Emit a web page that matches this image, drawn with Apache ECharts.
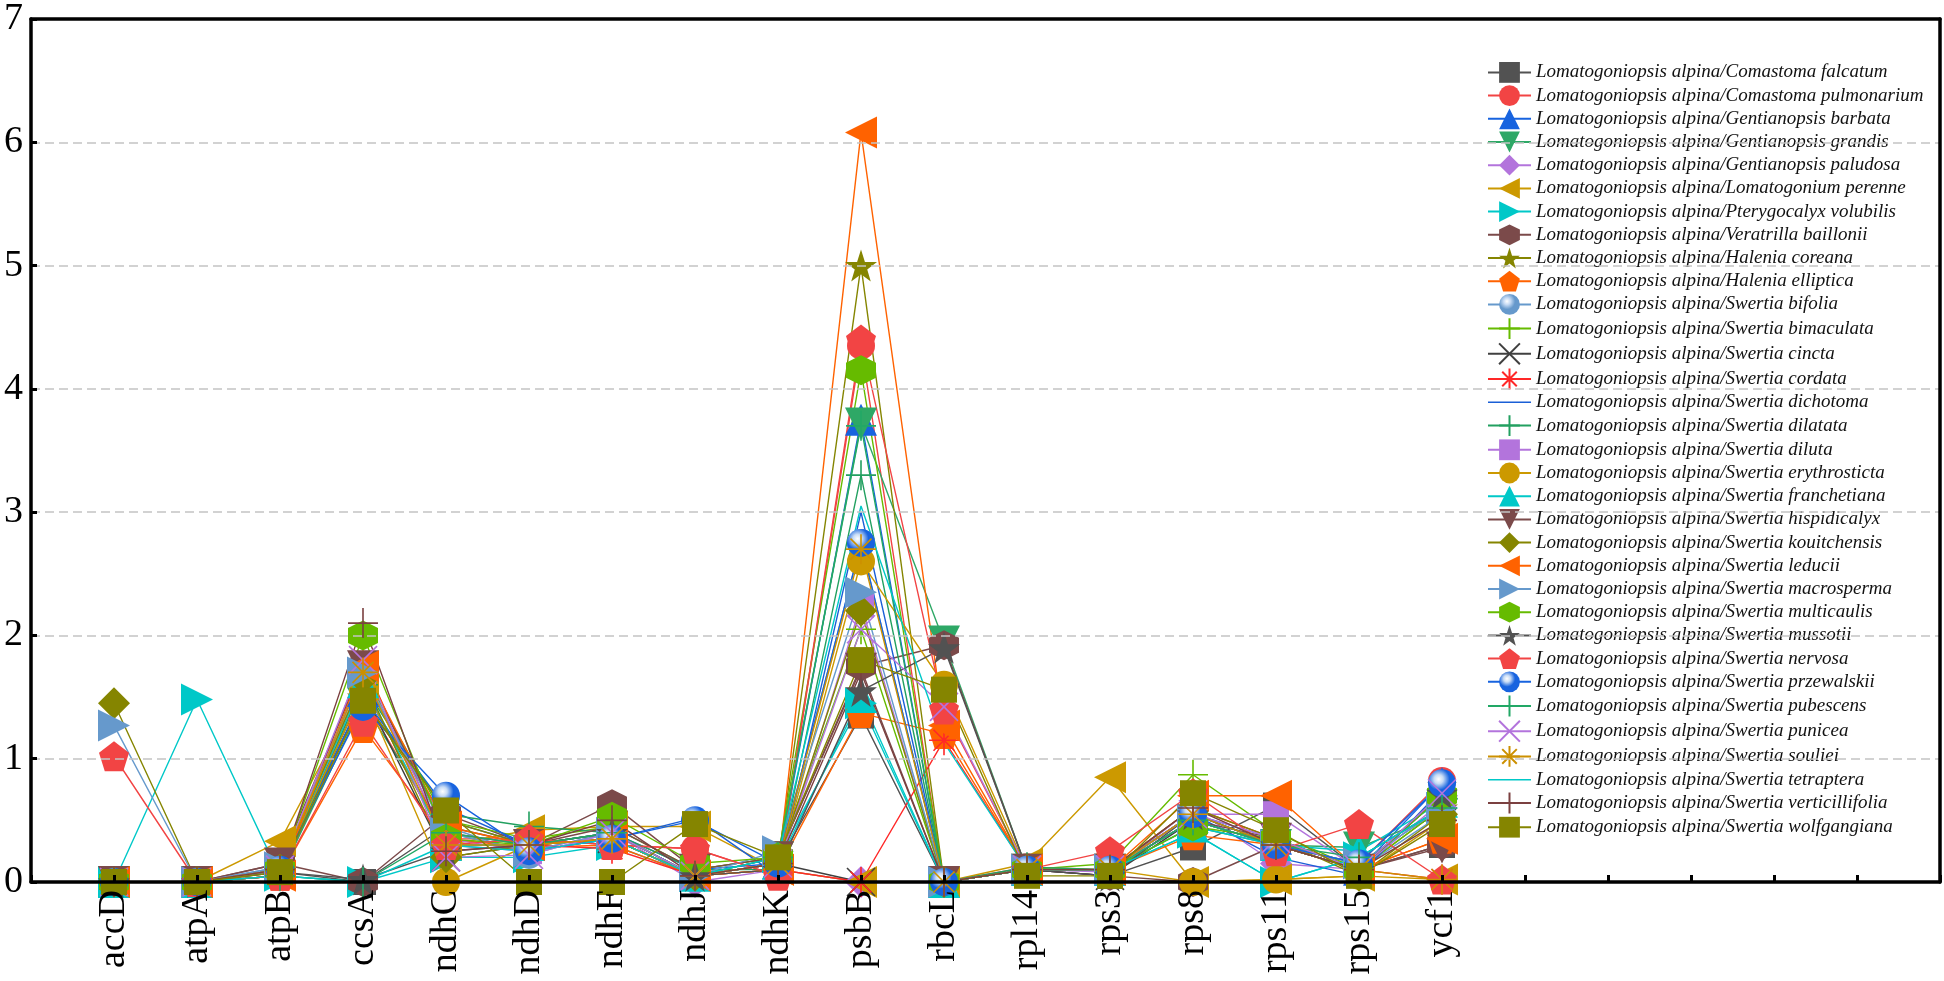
<!DOCTYPE html>
<html>
<head>
<meta charset="utf-8">
<script src="https://cdn.jsdelivr.net/npm/echarts@6/dist/echarts.min.js"></script>
<style>
html,body{margin:0;padding:0;background:#fff;}
#chart{width:1944px;height:981px;}
</style>
</head>
<body>
<div id="chart"></div>
<script>
// Categories (genes) along x
const genes = ['accD','atpA','atpB','ccsA','ndhC','ndhD','ndhF','ndhJ','ndhK','psbB','rbcL','rpl14','rps3','rps8','rps11','rps15','ycf1'];
const yTicks = [0,1,2,3,4,5,6,7];
const prefix = 'Lomatogoniopsis alpina/';

// Series values (order follows genes)
const comastomaFalcatum      = [0,0,0.08,0,0.45,0.30,0.35,0.05,0.15,1.35,0,0.10,0.05,0.28,0.62,0.10,0.30];
const comastomaPulmonarium   = [0,0,0.05,1.50,0.35,0.35,0.30,0.27,0.05,4.35,0,0.12,0.10,0.50,0.30,0.15,0.82];
const gentianopsisBarbata    = [0,0,0.10,1.55,0.50,0.30,0.40,0.10,0.15,3.75,0,0.10,0.10,0.55,0.35,0.10,0.80];
const gentianopsisGrandis    = [0,0,0.05,1.45,0.40,0.25,0.35,0.05,0.20,3.72,1.95,0.10,0.10,0.45,0.30,0.28,0.55];
const gentianopsisPaludosa   = [0,0,0.10,1.60,0.30,0.25,0.40,0,0.10,0,0,0.10,0.08,0.60,0.15,0.10,0.70];
const lomatogoniumPerenne    = [0,0,0.33,1.60,0.30,0.42,0.45,0.45,0.10,0,0,0.15,0.85,0,0.02,0.05,0.02];
const pterygocalyxVolubilis  = [0,1.48,0.05,0,0.20,0.20,0.30,0.05,0.20,1.45,0,0.10,0.10,0.40,0,0.20,0.60];
const veratrillaBaillonii    = [0,0,0.15,0,0.55,0.30,0.63,0.10,0.20,1.75,1.92,0.10,0.05,0,0.30,0.10,0.30];
const haleniaCoreana         = [0,0,0.10,1.50,0.50,0.30,0.40,0.05,0.15,5.00,0,0.10,0.10,0.55,0.30,0.10,0.60];
const haleniaElliptica       = [0,0,0.05,1.25,0.35,0.28,0.30,0.05,0.10,1.37,1.20,0.10,0.10,0.38,0.30,0.10,0.35];
const swertiaBifolia         = [0,0,0.12,1.65,0.45,0.22,0.40,0.05,0.15,2.75,0,0.10,0.10,0.50,0.30,0.10,0.55];
const swertiaBimaculata      = [0,0,0.10,1.70,0.50,0.35,0.45,0.10,0.20,2.05,0,0.10,0.15,0.87,0.40,0.10,0.60];
const swertiaCincta          = [0,0,0.10,1.55,0.20,0.30,0.35,0.05,0.15,0,0,0.10,0.05,0.50,0.30,0.10,0.70];
const swertiaCordata         = [0,0,0.05,1.80,0.30,0.30,0.27,0.05,0.10,0,1.15,0.10,0.10,0.60,0.35,0.10,0.02];
const swertiaDichotoma       = [0,0,0.10,1.50,0.60,0.30,0.35,0.52,0.05,3.00,0,0.10,0.10,0.55,0.20,0.05,0.75];
const swertiaDilatata        = [0,0,0.05,1.60,0.55,0.45,0.40,0.10,0.10,3.30,0,0.12,0.10,0.50,0.30,0.15,0.60];
const swertiaDiluta          = [0,0,0.10,1.70,0.35,0.25,0.35,0.05,0.10,2.25,0,0.10,0.10,0.55,0.55,0.10,0.65];
const swertiaErythrosticta   = [0,0,0.10,1.55,0,0.30,0.35,0.05,0.10,2.60,1.60,0.10,0.10,0,0.02,0.05,0.50];
const swertiaFranchetiana    = [0,0,0.10,1.62,0.30,0.30,0.40,0.05,0.15,1.50,0,0.10,0.10,0.45,0.30,0.25,0.65];
const swertiaHispidicalyx    = [0,0,0.15,1.75,0.40,0.30,0.45,0.10,0.20,1.73,0,0.10,0.10,0.50,0.35,0.10,0.28];
const swertiaKouitchensis    = [1.45,0,0.10,1.65,0.20,0.30,0.35,0.05,0.15,2.20,0,0.10,0.10,0.60,0.35,0.05,0.55];
const swertiaLeducii         = [0,0,0.05,1.75,0.45,0.30,0.35,0.05,0.10,6.08,1.27,0.10,0.10,0.70,0.70,0.10,0.35];
const swertiaMacrosperma     = [1.27,0,0.12,1.70,0.40,0.25,0.40,0.05,0.25,2.35,0,0.10,0.10,0.50,0.30,0.15,0.60];
const swertiaMulticaulis     = [0,0,0.10,2.00,0.35,0.30,0.53,0.15,0.20,4.15,0,0.10,0.10,0.45,0.35,0.10,0.70];
const swertiaMussotii        = [0,0,0.08,0.02,0.25,0.30,0.40,0.05,0.10,1.55,1.90,0.10,0.05,0.55,0.30,0.10,0.72];
const swertiaNervosa         = [1.02,0,0.05,1.30,0.30,0.35,0.30,0.27,0.05,4.40,1.40,0.10,0.25,0.72,0.25,0.47,0.02];
const swertiaPrzewalskii     = [0,0,0.10,1.42,0.70,0.25,0.35,0.50,0.15,2.75,0,0.10,0.10,0.55,0.30,0.15,0.80];
const swertiaPubescens       = [0,0,0.05,0,0.40,0.30,0.40,0.05,0.20,3.70,0,0.10,0.10,0.50,0.30,0.20,0.60];
const swertiaPunicea         = [0,0,0.10,1.80,0.20,0.22,0.40,0.05,0.15,2.05,1.42,0.10,0.10,0.55,0.35,0.10,0.72];
const swertiaSouliei         = [0,0,0.10,1.70,0.30,0.30,0.35,0.05,0.15,2.70,0,0.10,0.10,0.55,0.30,0.10,0.02];
const swertiaTetraptera      = [0,0,0.05,0,0.30,0.25,0.35,0.05,0.20,3.05,1.13,0.10,0.10,0.40,0,0.20,0.60];
const swertiaVerticillifolia = [0,0,0.10,2.10,0.25,0.30,0.50,0.05,0.15,1.70,0,0.10,0.10,0.60,0.30,0.10,0.50];
const swertiaWolfgangiana    = [0,0,0.08,1.47,0.58,0,0,0.47,0.20,1.80,1.56,0.05,0.05,0.72,0.42,0.05,0.47];

const speciesNames = ['Comastoma falcatum','Comastoma pulmonarium','Gentianopsis barbata','Gentianopsis grandis','Gentianopsis paludosa','Lomatogonium perenne','Pterygocalyx volubilis','Veratrilla baillonii','Halenia coreana','Halenia elliptica','Swertia bifolia','Swertia bimaculata','Swertia cincta','Swertia cordata','Swertia dichotoma','Swertia dilatata','Swertia diluta','Swertia erythrosticta','Swertia franchetiana','Swertia hispidicalyx','Swertia kouitchensis','Swertia leducii','Swertia macrosperma','Swertia multicaulis','Swertia mussotii','Swertia nervosa','Swertia przewalskii','Swertia pubescens','Swertia punicea','Swertia souliei','Swertia tetraptera','Swertia verticillifolia','Swertia wolfgangiana'];

const seriesValues = [comastomaFalcatum,comastomaPulmonarium,gentianopsisBarbata,gentianopsisGrandis,gentianopsisPaludosa,lomatogoniumPerenne,pterygocalyxVolubilis,veratrillaBaillonii,haleniaCoreana,haleniaElliptica,swertiaBifolia,swertiaBimaculata,swertiaCincta,swertiaCordata,swertiaDichotoma,swertiaDilatata,swertiaDiluta,swertiaErythrosticta,swertiaFranchetiana,swertiaHispidicalyx,swertiaKouitchensis,swertiaLeducii,swertiaMacrosperma,swertiaMulticaulis,swertiaMussotii,swertiaNervosa,swertiaPrzewalskii,swertiaPubescens,swertiaPunicea,swertiaSouliei,swertiaTetraptera,swertiaVerticillifolia,swertiaWolfgangiana];

const seriesColors = ['#525252','#f24444','#1763df','#2ea866','#b374dc','#cc9900','#00c8c8','#7b4a4a','#858500','#ff6200','#6699cc','#66bb00','#404040','#ff2828','#1a5fd6','#22a060','#b374dc','#cc9900','#00c8c8','#7b4a4a','#858500','#ff6200','#6699cc','#66bb00','#525252','#f24444','#1763df','#22a866','#b374dc','#cc9000','#00c8c8','#7b4040','#858500'];

const SYM = {
  square: 'rect',
  circle: 'circle',
  up: 'triangle',
  down: 'path://M0,0 L100,0 L50,86.6 Z',
  diamond: 'diamond',
  left: 'path://M0,50 L86.6,0 L86.6,100 Z',
  right: 'path://M0,0 L86.6,50 L0,100 Z',
  hexagon: 'path://M50,0 L93.3,25 L93.3,75 L50,100 L6.7,75 L6.7,25 Z',
  star: 'path://M50,0 L61.8,35.1 L98.1,35.1 L68.8,56.7 L79.4,90.5 L50,69.6 L20.6,90.5 L31.2,56.7 L1.9,35.1 L38.2,35.1 Z',
  pentagon: 'path://M50,0 L97.6,34.5 L79.4,90.5 L20.6,90.5 L2.4,34.5 Z',
  sphere: 'circle',
  plus: 'path://M50,0 L50,100 M0,50 L100,50',
  cross: 'path://M0,0 L100,100 M100,0 L0,100',
  asterisk: 'path://M50,0 L50,100 M0,50 L100,50 M15,15 L85,85 M85,15 L15,85',
  none: 'none'
};
const SIZE = {square:26,circle:28,up:32,down:32,diamond:32,left:32,right:32,hexagon:30,star:32,pentagon:30,sphere:28,plus:30,cross:28,asterisk:30,none:0};
const markerKinds = ['square','circle','up','down','diamond','left','right','hexagon','star','pentagon','sphere','plus','cross','asterisk','none','plus','square','circle','up','down','diamond','left','right','hexagon','star','pentagon','sphere','plus','cross','asterisk','none','plus','square'];
const strokeKinds = {plus:true, cross:true, asterisk:true};
const LINE_ICON = 'path://M0,0 L100,0 L100,3.5 L0,3.5 Z';

function fillFor(kind, color){
  if (kind === 'sphere') {
    return {type:'radial', x:0.38, y:0.35, r:0.65, colorStops:[{offset:0,color:'#ffffff'},{offset:0.25,color:'#c8dcf5'},{offset:0.6,color:color},{offset:1,color:color}]};
  }
  return color;
}

const series = seriesValues.map((vals, s) => {
  const kind = markerKinds[s];
  const color = seriesColors[s];
  return {
    name: prefix + speciesNames[s],
    type: 'line',
    xAxisIndex: 0, yAxisIndex: 0,
    data: vals.map((v, i) => [i, v]),
    symbol: SYM[kind],
    symbolSize: SIZE[kind],
    showSymbol: kind !== 'none',
    showAllSymbol: true,
    lineStyle: {color: color, width: 1.4},
    itemStyle: {
      color: fillFor(kind, color),
      borderColor: color,
      borderWidth: strokeKinds[kind] ? 1.6 : 0
    },
    emphasis: {disabled: true},
    z: 2
  };
});

const legendData = series.map((s, i) => {
  if (markerKinds[i] === 'none') {
    return {name: s.name, icon: LINE_ICON, itemStyle: {color: seriesColors[i], borderWidth: 0}};
  }
  return {name: s.name};
});

const frameLine = {show: true, onZero: false, lineStyle: {color: '#000', width: 3.5}};

const chart = echarts.init(document.getElementById('chart'), null, {renderer: 'canvas'});
chart.setOption({
  animation: false,
  backgroundColor: '#ffffff',
  grid: {left: 31, right: 4, top: 18, bottom: 99, show: false},
  xAxis: [{
    type: 'value', min: -1, max: 22, interval: 1,
    axisLine: frameLine,
    axisTick: {show: true, inside: true, length: 7, lineStyle: {color: '#000', width: 3}},
    splitLine: {show: false},
    axisLabel: {
      rotate: 90, margin: 8, fontSize: 38, fontFamily: 'Liberation Serif', color: '#000',
      formatter: v => (genes[v] !== undefined ? genes[v] : '')
    },
    z: 5
  }, {
    type: 'value', position: 'top', min: -1, max: 22, interval: 1,
    axisLine: frameLine, axisTick: {show: false}, axisLabel: {show: false}, splitLine: {show: false}, z: 5
  }],
  yAxis: [{
    type: 'value', min: yTicks[0], max: yTicks[yTicks.length - 1], interval: 1,
    axisLine: frameLine,
    axisTick: {show: true, inside: true, length: 6, lineStyle: {color: '#000', width: 3}},
    splitLine: {show: true, lineStyle: {color: '#c4c4c4', width: 1.5, type: [9, 5]}},
    axisLabel: {margin: 8, fontSize: 38, fontFamily: 'Liberation Serif', color: '#000'},
    z: 5
  }, {
    type: 'value', position: 'right', min: yTicks[0], max: yTicks[yTicks.length - 1], interval: 1,
    axisLine: frameLine, axisTick: {show: false}, axisLabel: {show: false}, splitLine: {show: false}, z: 5
  }],
  legend: {
    orient: 'vertical', left: 1487, top: 62, padding: 0,
    itemWidth: 43, itemHeight: 26, itemGap: 2.4,
    selectedMode: false,
    textStyle: {fontFamily: 'Liberation Serif', fontStyle: 'italic', fontSize: 19, color: '#111'},
    data: legendData
  },
  series: series
});
</script>
</body>
</html>
